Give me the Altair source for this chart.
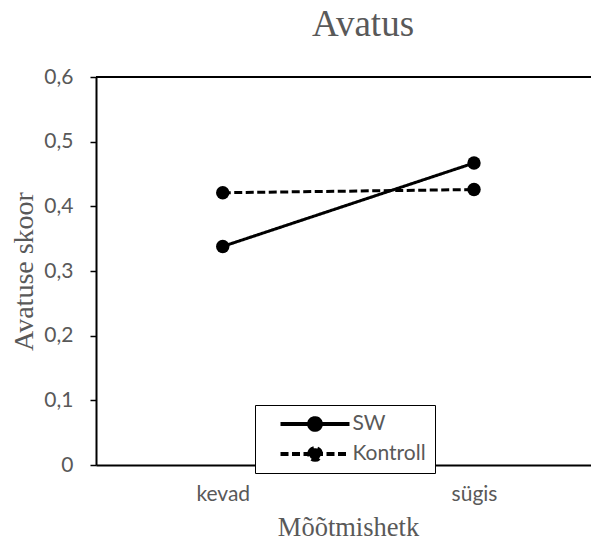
import altair as alt
import pandas as pd

times = ["kevad", "sügis"]
series_names = ["SW", "Kontroll"]
sw_values = [0.338, 0.467]
kontroll_values = [0.421, 0.426]
y_ticks = [0, 0.1, 0.2, 0.3, 0.4, 0.5, 0.6]
chart_title = "Avatus"

rows = []
for name, vals in zip(series_names, [sw_values, kontroll_values]):
    for t, v in zip(times, vals):
        rows.append({"Mõõtmishetk": t, "skoor": v, "rühm": name})
df = pd.DataFrame(rows)

W, H = 495, 388
GRAY = "#595959"
SERIF = "Liberation Serif"
SANS = "Lato"

legend_path = "M-1,0L1,0M-0.17,0A0.17,0.17,0,1,1,0.17,0A0.17,0.17,0,1,1,-0.17,0Z"

x = alt.X(
    "Mõõtmishetk:N",
    sort=times,
    scale=alt.Scale(type="point", padding=0.485, align=0.52),
    axis=alt.Axis(
        title="Mõõtmishetk", labelAngle=0, ticks=False,
        domainColor="black", domainWidth=2,
        labelFont=SANS, labelFontSize=21, labelColor=GRAY, labelPadding=18,
        titleFont=SERIF, titleFontSize=26.5, titleFontWeight="normal", titleColor=GRAY,
        titleX=252, titleY=70, titleBaseline="alphabetic", titleAlign="center",
    ),
)
y = alt.Y(
    "skoor:Q",
    scale=alt.Scale(domain=[0, 0.6], nice=False, zero=True),
    axis=alt.Axis(
        values=y_ticks,
        labelExpr="datum.value == 0 ? '0' : replace(format(datum.value, '.1f'), '.', ',')",
        grid=False, tickSize=6, tickColor="black", tickWidth=1.5,
        domainColor="black", domainWidth=2,
        labelFont=SANS, labelFontSize=21, labelColor=GRAY, labelPadding=17,
        title="Avatuse skoor", titleFont=SERIF, titleFontSize=28, titleFontWeight="normal",
        titleColor=GRAY, titleAngle=270, titleX=-64, titleY=194,
        titleBaseline="alphabetic", titleAlign="center",
    ),
)

dash = alt.StrokeDash(
    "rühm:N",
    sort=series_names,
    scale=alt.Scale(domain=series_names, range=[[1, 0], [8, 3.5]]),
    legend=alt.Legend(
        title=None, orient="none", legendX=159, legendY=328,
        symbolType=legend_path, symbolSize=4761, symbolStrokeWidth=4,
        symbolFillColor="black", symbolStrokeColor="black",
        symbolOffset=14.5, clipHeight=20,
        labelFont=SANS, labelFontSize=21, labelColor=GRAY, labelOffset=1,
        strokeColor="black", fillColor="white", padding=9, rowPadding=9,
    ),
)

lines = alt.Chart(df).mark_line(color="black", strokeWidth=3).encode(x=x, y=y, strokeDash=dash)
points = alt.Chart(df).mark_point(filled=True, size=180, color="black", opacity=1, strokeWidth=0).encode(
    x=x, y=y, detail="rühm:N"
)
top_rule = alt.Chart(pd.DataFrame({"a": [0]})).mark_rule(color="black", strokeWidth=2).encode(
    x=alt.value(0), x2=alt.value(W), y=alt.value(0)
)
title_text = alt.Chart(pd.DataFrame({"t": [chart_title]})).mark_text(
    font=SERIF, fontSize=37, color=GRAY, align="center", baseline="alphabetic"
).encode(x=alt.value(267), y=alt.value(-41), text="t:N")

chart = (
    alt.layer(top_rule, lines, points, title_text)
    .properties(
        width=W, height=H,
        autosize=alt.AutoSizeParams(type="none"),
        padding={"left": 88, "top": 69, "right": 0, "bottom": 76},
    )
    .configure_view(stroke=None)
    .configure(background="white")
)

chart.save("out.html", embed_options={"renderer": "svg", "actions": False})
